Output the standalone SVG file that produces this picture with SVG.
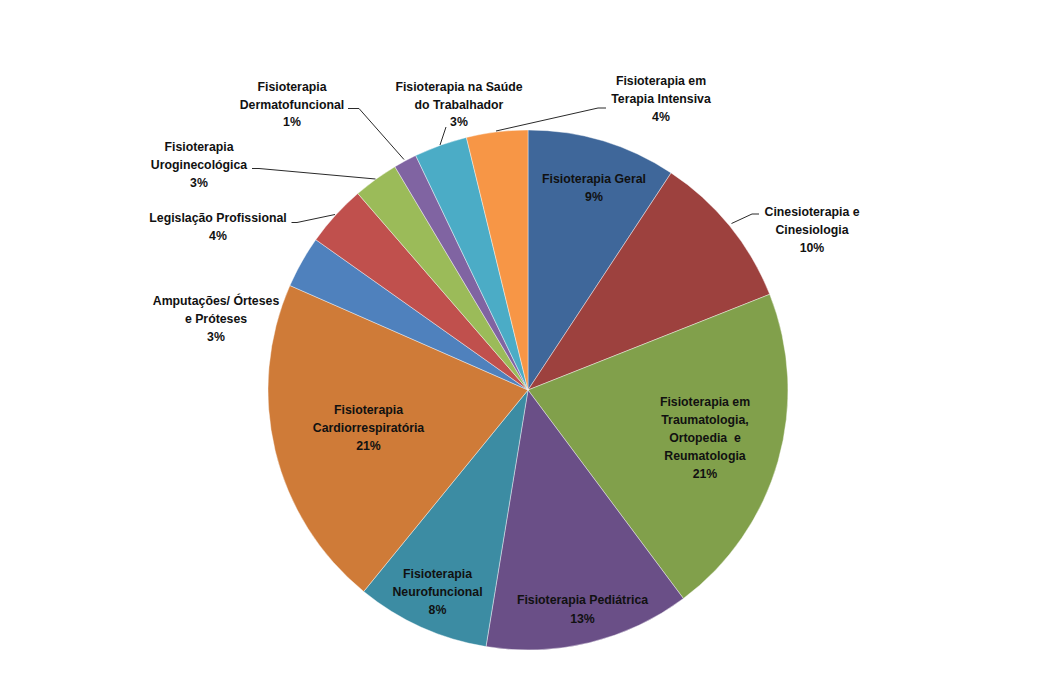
<svg xmlns="http://www.w3.org/2000/svg" width="1048" height="681" viewBox="0 0 1048 681">
<style>
.s{stroke:#ffffff;stroke-opacity:0.55;stroke-width:0.75}
.t{font-family:"Liberation Sans",Arial,sans-serif;font-size:12.3px;font-weight:bold;fill:#111111;text-anchor:middle}
.l{fill:none;stroke:#2a2a2a;stroke-width:1}
</style>
<rect width="1048" height="681" fill="#ffffff"/>
<g id="slices">
<g id="geral"><path class="s" fill="#3F679A" d="M528,390 L528,130 A260,260 0 0 1 671.1,172.9 Z"/></g>
<g id="cinesio"><path class="s" fill="#9D413E" d="M528,390 L671.1,172.9 A260,260 0 0 1 769.7,294.3 Z"/></g>
<g id="trauma"><path class="s" fill="#81A04B" d="M528,390 L769.7,294.3 A260,260 0 0 1 683.4,598.5 Z"/></g>
<g id="pediatrica"><path class="s" fill="#6A4F87" d="M528,390 L683.4,598.5 A260,260 0 0 1 486,646.6 Z"/></g>
<g id="neuro"><path class="s" fill="#3C8CA3" d="M528,390 L486,646.6 A260,260 0 0 1 363.7,591.5 Z"/></g>
<g id="cardio"><path class="s" fill="#CF7B38" d="M528,390 L363.7,591.5 A260,260 0 0 1 289.9,285.5 Z"/></g>
<g id="amputacoes"><path class="s" fill="#4F81BD" d="M528,390 L289.9,285.5 A260,260 0 0 1 315.8,239.7 Z"/></g>
<g id="legislacao"><path class="s" fill="#C0504D" d="M528,390 L315.8,239.7 A260,260 0 0 1 357.8,193.5 Z"/></g>
<g id="uro"><path class="s" fill="#9BBB59" d="M528,390 L357.8,193.5 A260,260 0 0 1 394.9,166.7 Z"/></g>
<g id="dermato"><path class="s" fill="#8064A2" d="M528,390 L394.9,166.7 A260,260 0 0 1 415.7,155.5 Z"/></g>
<g id="trabalhador"><path class="s" fill="#4BACC6" d="M528,390 L415.7,155.5 A260,260 0 0 1 466.4,137.4 Z"/></g>
<g id="intensiva"><path class="s" fill="#F79646" d="M528,390 L466.4,137.4 A260,260 0 0 1 528,130 Z"/></g>
</g>
<g id="connectors">
<path class="l" d="M496,131 L598,108 L606,108"/>
<path class="l" d="M440,145 L446,127"/>
<path class="l" d="M348,108.5 L359,108.5 L404,159.5"/>
<path class="l" d="M252,168.5 L259,168.5 L375.5,179"/>
<path class="l" d="M291.5,222.5 L297,222.5 L335,214.5"/>
<path class="l" d="M731.5,223.5 L752,214 L759,214"/>
</g>
<g id="labels">
<g id="lbl-geral"><text class="t" x="594" y="183">Fisioterapia Geral</text><text class="t" x="594" y="201">9%</text></g>
<g id="lbl-cinesio"><text class="t" x="812" y="216">Cinesioterapia e</text><text class="t" x="812" y="234">Cinesiologia</text><text class="t" x="812" y="251.5">10%</text></g>
<g id="lbl-trauma"><text class="t" x="705" y="405.5">Fisioterapia em</text><text class="t" x="705" y="424">Traumatologia,</text><text class="t" x="705" y="442">Ortopedia&#160; e</text><text class="t" x="705" y="460">Reumatologia</text><text class="t" x="705" y="477.5">21%</text></g>
<g id="lbl-pediatrica"><text class="t" x="582.5" y="603.5">Fisioterapia Pediátrica</text><text class="t" x="582.5" y="622.5">13%</text></g>
<g id="lbl-neuro"><text class="t" x="437.5" y="578">Fisioterapia</text><text class="t" x="437.5" y="596">Neurofuncional</text><text class="t" x="437.5" y="614">8%</text></g>
<g id="lbl-cardio"><text class="t" x="368.5" y="414">Fisioterapia</text><text class="t" x="368.5" y="432">Cardiorrespiratória</text><text class="t" x="368.5" y="450">21%</text></g>
<g id="lbl-amputacoes"><text class="t" x="216" y="305">Amputações/ Órteses</text><text class="t" x="216" y="323">e Próteses</text><text class="t" x="216" y="341">3%</text></g>
<g id="lbl-legislacao"><text class="t" x="218" y="222">Legislação Profissional</text><text class="t" x="218" y="240">4%</text></g>
<g id="lbl-uro"><text class="t" x="199" y="151">Fisioterapia</text><text class="t" x="199" y="169">Uroginecológica</text><text class="t" x="199" y="187">3%</text></g>
<g id="lbl-dermato"><text class="t" x="292" y="90.5">Fisioterapia</text><text class="t" x="292" y="108.5">Dermatofuncional</text><text class="t" x="292" y="126">1%</text></g>
<g id="lbl-trabalhador"><text class="t" x="459" y="90.5">Fisioterapia na Saúde</text><text class="t" x="459" y="108.5">do Trabalhador</text><text class="t" x="459" y="126">3%</text></g>
<g id="lbl-intensiva"><text class="t" x="661" y="85">Fisioterapia em</text><text class="t" x="661" y="103">Terapia Intensiva</text><text class="t" x="661" y="121">4%</text></g>
</g>
</svg>
